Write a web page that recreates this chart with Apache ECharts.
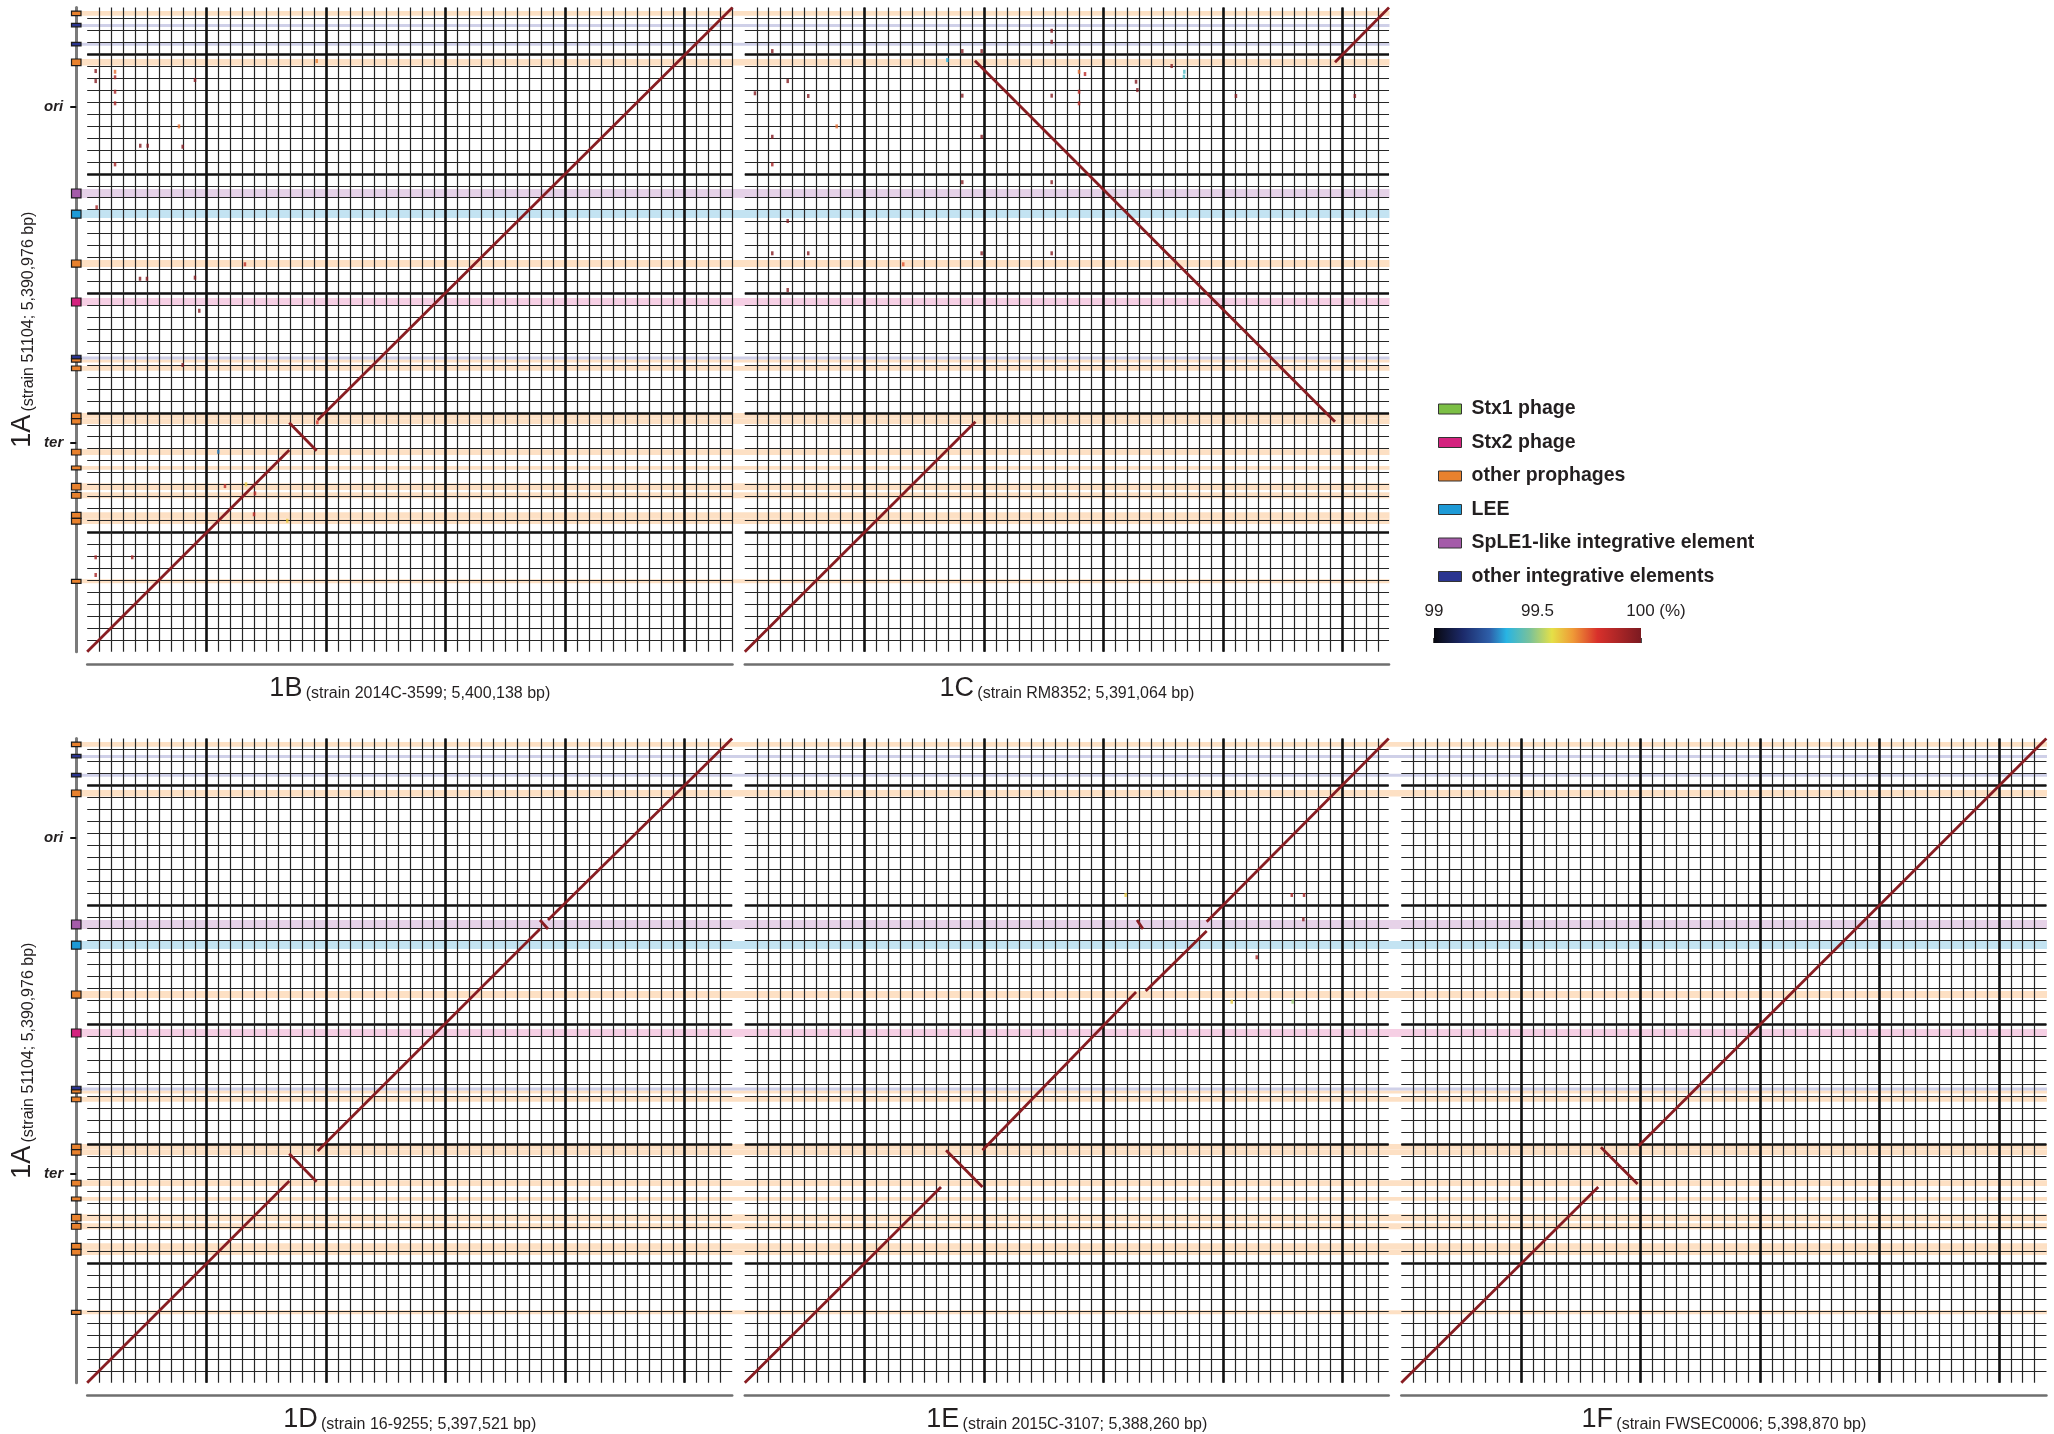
<!DOCTYPE html>
<html><head><meta charset="utf-8">
<script src="https://cdn.jsdelivr.net/npm/echarts@6/dist/echarts.min.js"></script>
<style>html,body{margin:0;padding:0;background:#fff}#c{width:2054px;height:1434px}</style>
</head><body><div id="c"></div>
<script>
// ---------------- data ----------------
const refName = '1A';
const refStrain = '(strain 51104; 5,390,976 bp)';
const refLength = 5.390976; // Mb
const queryNames = ['1B', '1C', '1D', '1E', '1F'];
const queryStrains = ['(strain 2014C-3599; 5,400,138 bp)', '(strain RM8352; 5,391,064 bp)',
  '(strain 16-9255; 5,397,521 bp)', '(strain 2015C-3107; 5,388,260 bp)', '(strain FWSEC0006; 5,398,870 bp)'];
const queryLengths = [5.400138, 5.391064, 5.397521, 5.388260, 5.398870];
// alignment segments [queryStart, refStart, queryEnd, refEnd] in Mb
const seg1B = [[0, 0, 1.691, 1.689], [1.691, 1.917, 1.920, 1.683], [1.929, 1.940, 5.400, 5.391]];
const seg1C = [[0, 0, 1.930, 1.925], [1.926, 4.946, 4.939, 1.926], [4.939, 4.933, 5.391, 5.391]];
const seg1D = [[0, 0, 1.691, 1.689], [1.691, 1.917, 1.920, 1.683], [1.929, 1.940, 3.789, 3.798],
  [3.789, 3.873, 3.856, 3.798], [3.856, 3.873, 5.397, 5.391]];
const seg1E = [[0, 0, 1.642, 1.639], [1.684, 1.947, 1.989, 1.639], [1.989, 1.947, 3.274, 3.270],
  [3.282, 3.873, 3.332, 3.798], [3.355, 3.279, 3.865, 3.781], [3.865, 3.859, 5.388, 5.391]];
const seg1F = [[0, 0, 1.648, 1.639], [1.670, 1.971, 1.977, 1.664], [1.985, 1.982, 5.398, 5.391]];
const segments = [seg1B, seg1C, seg1D, seg1E, seg1F];
// short off-diagonal matches [query Mb, reference Mb, identity %]
const dots1B = [[0.071, 4.860, 99.98], [0.071, 4.776, 99.98], [0.233, 4.854, 99.72], [0.233, 4.808, 99.9],
  [0.233, 4.687, 99.9], [0.233, 4.590, 99.9], [0.902, 4.785, 99.98], [0.444, 4.235, 99.98], [0.506, 4.235, 99.98],
  [0.799, 4.227, 99.98], [0.233, 4.079, 99.9], [0.768, 4.397, 99.72], [1.921, 4.944, 99.7], [0.079, 3.720, 99.9],
  [0.442, 3.122, 99.98], [0.500, 3.122, 99.98], [0.902, 3.131, 99.98], [1.320, 3.243, 99.85], [0.938, 2.854, 99.98],
  [0.799, 2.400, 99.98], [1.153, 1.387, 99.85], [1.329, 1.402, 99.6], [1.404, 1.326, 99.85], [1.396, 1.151, 99.85],
  [1.674, 1.097, 99.6], [1.097, 1.674, 99.3], [0.071, 0.791, 99.9], [0.377, 0.791, 99.9], [0.071, 0.643, 99.9],
  [1.926, 1.920, 99.8]];
const dots1C = [[0.230, 5.027, 99.98], [0.359, 4.776, 99.98], [0.085, 4.674, 99.98], [0.531, 4.651, 99.98],
  [0.230, 4.310, 99.98], [0.230, 4.079, 99.9], [0.359, 3.605, 99.98], [0.230, 3.335, 99.98], [0.531, 3.335, 99.98],
  [0.359, 3.028, 99.98], [1.820, 5.027, 99.98], [1.982, 5.027, 99.98], [2.568, 5.197, 99.98], [2.568, 5.105, 99.98],
  [2.568, 4.654, 99.98], [1.820, 4.654, 99.98], [1.982, 4.310, 99.98], [1.820, 3.930, 99.98], [2.568, 3.930, 99.98],
  [2.568, 3.335, 99.98], [1.982, 3.335, 99.98], [2.797, 4.854, 99.72], [2.847, 4.835, 99.85], [2.797, 4.687, 99.85],
  [2.797, 4.590, 99.85], [1.695, 4.952, 99.35], [1.326, 3.243, 99.75], [0.769, 4.397, 99.72], [3.274, 4.771, 99.98],
  [3.285, 4.701, 99.98], [3.572, 4.902, 99.98], [3.678, 4.854, 99.4], [3.675, 4.813, 99.4], [5.105, 4.651, 99.98],
  [4.110, 4.651, 99.98]];
const dots1D = [];
const dots1E = [[4.577, 4.082, 99.9], [4.680, 4.082, 99.9], [4.674, 3.879, 99.98], [4.284, 3.561, 99.9],
  [4.075, 3.189, 99.6], [4.585, 3.189, 99.5], [3.187, 4.082, 99.6]];
const dots1F = [];
const dots = [dots1B, dots1C, dots1D, dots1E, dots1F];
// mobile elements of 1A: start, end (Mb) and type index
const elementTypes = ['Stx1 phage', 'Stx2 phage', 'other prophages', 'LEE',
  'SpLE1-like integrative element', 'other integrative elements'];
const elementStart = [5.323, 5.237, 5.072, 4.906, 3.798, 3.630, 3.220, 2.894, 2.463, 2.433, 2.352,
  1.952, 1.906, 1.647, 1.523, 1.354, 1.285, 1.117, 1.069, 0.573];
const elementEnd = [5.362, 5.253, 5.097, 4.961, 3.873, 3.697, 3.279, 2.961, 2.471, 2.446, 2.392,
  1.998, 1.952, 1.695, 1.555, 1.410, 1.335, 1.167, 1.117, 0.607];
const elementType = [2, 5, 5, 2, 4, 3, 2, 1, 5, 2, 2, 2, 2, 2, 2, 2, 2, 2, 2, 2];
const landmarkNames = ['ori', 'ter'];
const landmarkPos = [4.561, 1.750];
const identityMin = 99, identityMax = 100, identityStep = 0.5;

// ---------------- styles / layout ----------------
const typeColors = ['#7cbf45', '#d4237f', '#e8812d', '#1e9ad6', '#a45ba9', '#2b3590'];
const bandColors = ['#d9ebc4', '#f6cfe4', '#fde0c4', '#c3e3f2', '#e6d2e8', '#cfd0e8'];
const colorStops = [[0, '#08080f'], [0.14, '#1c2a6a'], [0.27, '#2e60aa'], [0.35, '#28b4e3'],
  [0.46, '#77c19c'], [0.57, '#e5e047'], [0.67, '#ef9a37'], [0.79, '#d8302b'], [1, '#7b1a21']];
const FONT = '"Liberation Sans", Arial, Helvetica, sans-serif';
const TXT = '#231f20';
const PX = 119.5;             // pixels per Mb
const rowTop = [7.6, 738.6];
const colLeft = [87.2, 744.8, 1401.3];
const panelPlace = [[0, 0], [0, 1], [1, 0], [1, 1], [1, 2]];
const rowRight = [1389.5, 2047];
const H = refLength * PX;

function hex2rgb(h) { return [1, 3, 5].map(i => parseInt(h.substr(i, 2), 16)); }
function identityColor(v) {
  const t = Math.min(1, Math.max(0, (v - identityMin) / (identityMax - identityMin)));
  for (let i = 1; i < colorStops.length; i++) {
    if (t <= colorStops[i][0]) {
      const a = colorStops[i - 1], b = colorStops[i];
      const f = (t - a[0]) / (b[0] - a[0]);
      const ca = hex2rgb(a[1]), cb = hex2rgb(b[1]);
      return 'rgb(' + ca.map((c, k) => Math.round(c + (cb[k] - c) * f)).join(',') + ')';
    }
  }
  return colorStops[colorStops.length - 1][1];
}

const grid = [], xAxis = [], yAxis = [], series = [];
function addGrid(g) { grid.push(g); return grid.length - 1; }
function addX(a) { xAxis.push(a); return xAxis.length - 1; }
function addY(a) { yAxis.push(a); return yAxis.length - 1; }

const minorLine = { color: '#262626', width: 1.2 };
const majorLine = { color: '#111111', width: 2.6 };
const hidden = { show: false };

// ---- rows: bands + track ----
[0, 1].forEach(r => {
  const gb = addGrid({ left: 81, top: rowTop[r], width: rowRight[r] - 81, height: H });
  const bx = addX({ type: 'value', gridIndex: gb, min: 0, max: 1, show: false });
  const by = addY({ type: 'value', gridIndex: gb, min: 0, max: refLength, show: false });
  elementTypes.forEach((t, ti) => {
    const d = [];
    elementStart.forEach((s, i) => { if (elementType[i] === ti) d.push([s, elementEnd[i]]); });
    series.push({
      type: 'custom', name: 'band ' + t, xAxisIndex: bx, yAxisIndex: by, z: 1, silent: true,
      data: d, renderItem: (p, api) => {
        const a = api.coord([0, api.value(1)]), b = api.coord([1, api.value(0)]);
        let h = Math.max(b[1] - a[1], 3);
        return { type: 'rect', shape: { x: a[0], y: a[1], width: b[0] - a[0], height: h },
          style: { fill: bandColors[ti] } };
      }
    });
  });
  const gt = addGrid({ left: 71.5, top: rowTop[r], width: 9.5, height: H });
  const tx = addX({ type: 'value', gridIndex: gt, min: 0, max: 1, show: false });
  const ty = addY({
    type: 'value', gridIndex: gt, min: 0, max: refLength, position: 'left', offset: -4.75,
    axisLine: { show: true, onZero: false, lineStyle: { color: '#7a7a7a', width: 3 } },
    axisTick: { show: true, customValues: landmarkPos, length: 6, lineStyle: { color: '#111', width: 2 } },
    axisLabel: { show: true, customValues: landmarkPos, margin: 13, fontSize: 15, fontWeight: 'bold',
      fontStyle: 'italic', fontFamily: FONT, color: TXT,
      formatter: v => { let k = 0; landmarkPos.forEach((p, i) => { if (Math.abs(p - v) < Math.abs(landmarkPos[k] - v)) k = i; }); return landmarkNames[k]; } },
    splitLine: hidden,
    name: '{big|' + refName + '} {small|' + refStrain + '}', nameLocation: 'middle', nameRotate: 90, nameGap: 40,
    nameTextStyle: { color: TXT, fontFamily: FONT, rich: {
      big: { fontSize: 27, fontFamily: FONT, color: TXT, lineHeight: 30, verticalAlign: 'bottom' },
      small: { fontSize: 16, fontFamily: FONT, color: TXT, lineHeight: 22, verticalAlign: 'bottom' } } }
  });
  elementTypes.forEach((t, ti) => {
    const d = [];
    elementStart.forEach((s, i) => { if (elementType[i] === ti) d.push([s, elementEnd[i]]); });
    series.push({
      type: 'custom', name: t, xAxisIndex: tx, yAxisIndex: ty, z: 6, silent: true,
      itemStyle: { color: typeColors[ti], borderColor: '#222', borderWidth: 1 },
      data: d, renderItem: (p, api) => {
        const a = api.coord([0, api.value(1)]), b = api.coord([1, api.value(0)]);
        let y = a[1], h = b[1] - a[1];
        if (h < 3.5) { y -= (3.5 - h) / 2; h = 3.5; }
        return { type: 'rect', shape: { x: a[0], y: y, width: b[0] - a[0], height: h },
          style: { fill: typeColors[ti], stroke: '#1a1a1a', lineWidth: 1.2 } };
      }
    });
  });
});

// ---- panels ----
queryNames.forEach((qn, i) => {
  const [r, c] = panelPlace[i];
  const L = queryLengths[i];
  const g = addGrid({ left: colLeft[c], top: rowTop[r], width: L * PX, height: H });
  const xm = addX({ type: 'value', gridIndex: g, min: 0, max: L, interval: 0.1, position: 'top', z: 3,
    axisLine: hidden, axisTick: hidden, axisLabel: hidden,
    splitLine: { show: true, showMinLine: false, showMaxLine: false, lineStyle: minorLine } });
  addX({ type: 'value', gridIndex: g, min: 0, max: L, interval: 1, position: 'bottom', offset: 12, z: 3,
    axisLine: { show: true, onZero: false, lineStyle: { color: '#6f6f6f', width: 2.5 } }, axisTick: hidden, axisLabel: hidden,
    splitLine: { show: true, showMinLine: false, showMaxLine: false, lineStyle: majorLine },
    name: '{big|' + qn + '} {small|' + queryStrains[i] + '}', nameLocation: 'middle', nameGap: 8,
    nameTextStyle: { color: TXT, fontFamily: FONT, verticalAlign: 'top', rich: {
      big: { fontSize: 27, fontFamily: FONT, color: TXT, lineHeight: 30, verticalAlign: 'bottom' },
      small: { fontSize: 16, fontFamily: FONT, color: TXT, lineHeight: 22, verticalAlign: 'bottom' } } } });
  const ym = addY({ type: 'value', gridIndex: g, min: 0, max: refLength, interval: 0.1, position: 'right', z: 3,
    axisLine: hidden, axisTick: hidden, axisLabel: hidden,
    splitLine: { show: true, showMinLine: false, showMaxLine: false, lineStyle: minorLine } });
  addY({ type: 'value', gridIndex: g, min: 0, max: refLength, interval: 1, position: 'left', z: 3,
    axisLine: hidden, axisTick: hidden, axisLabel: hidden,
    splitLine: { show: true, showMinLine: false, showMaxLine: false, lineStyle: majorLine } });
  series.push({
    type: 'scatter', name: 'matches ' + qn, xAxisIndex: xm, yAxisIndex: ym, z: 7, silent: true,
    symbol: 'rect', symbolSize: [2.5, 4],
    data: dots[i].map(d => ({ value: d, itemStyle: { color: identityColor(d[2]) } }))
  });
  series.push({
    type: 'lines', name: 'align ' + qn, coordinateSystem: 'cartesian2d', xAxisIndex: xm, yAxisIndex: ym,
    z: 8, silent: true,
    data: segments[i].map(s => ({ coords: [[s[0], s[1]], [s[2], s[3]]] })),
    lineStyle: { color: identityColor(99.97), width: 2.8, opacity: 1, curveness: 0 }
  });
});

// ---- identity colour bar ----
const gc = addGrid({ left: 1434, top: 628, width: 207, height: 15 });
const cx = addX({ type: 'value', gridIndex: gc, min: identityMin, max: identityMax, interval: identityStep,
  position: 'top', axisLine: hidden, splitLine: hidden,
  axisTick: { show: true, length: 5, lineStyle: { color: '#111', width: 1.5 } },
  axisLabel: { show: true, margin: 8, fontSize: 17, fontFamily: FONT, color: TXT, showMinLabel: true, showMaxLabel: true,
    formatter: v => v === identityMax ? '{p|}' + v + ' (%)' : String(v), rich: { p: { width: 30 } } } });
const cy = addY({ type: 'value', gridIndex: gc, min: 0, max: 1, show: false });
series.push({
  type: 'custom', name: 'identity scale', xAxisIndex: cx, yAxisIndex: cy, silent: true, data: [[identityMin, identityMax]],
  renderItem: (p, api) => {
    const a = api.coord([api.value(0), 1]), b = api.coord([api.value(1), 0]);
    return { type: 'rect', shape: { x: a[0], y: a[1], width: b[0] - a[0], height: b[1] - a[1] },
      style: { fill: new echarts.graphic.LinearGradient(0, 0, 1, 0, colorStops.map(s => ({ offset: s[0], color: s[1] }))) } };
  }
});

const option = {
  backgroundColor: '#ffffff',
  animation: false,
  grid, xAxis, yAxis, series,
  legend: {
    orient: 'vertical', left: 1433, top: 394, itemWidth: 23, itemHeight: 10, itemGap: 13.5, icon: 'rect',
    selectedMode: false, data: elementTypes,
    itemStyle: { borderColor: '#333', borderWidth: 1 },
    textStyle: { fontFamily: FONT, fontWeight: 'bold', fontSize: 19.5, color: TXT, lineHeight: 20, padding: [0, 0, 0, 5] }
  }
};
const chart = echarts.init(document.getElementById('c'), null, { renderer: 'canvas', width: 2054, height: 1434 });
chart.setOption(option);
</script></body></html>
